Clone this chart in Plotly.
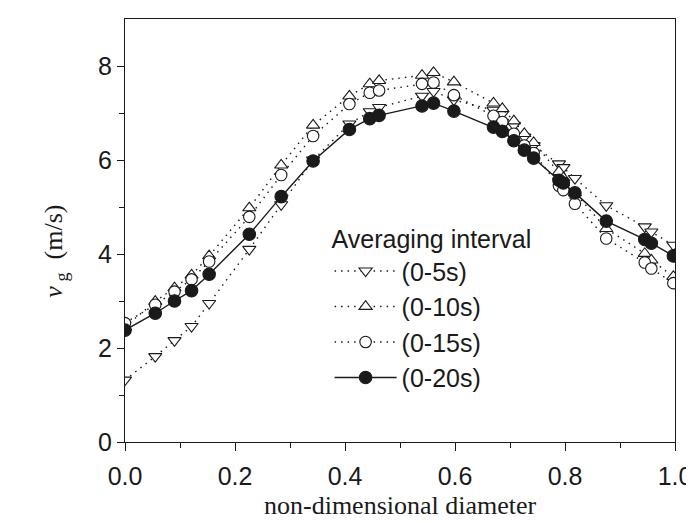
import plotly.graph_objects as go

x_pos = [0.000, 0.055, 0.090, 0.121, 0.153, 0.226, 0.284, 0.342, 0.408, 0.445,
         0.462, 0.540, 0.561, 0.598, 0.670, 0.686, 0.707, 0.726, 0.743, 0.789,
         0.797, 0.818, 0.875, 0.945, 0.957, 0.997]

v_0_5s = [1.32, 1.82, 2.16, 2.46, 2.95, 4.10, 5.05, 6.00, 6.77, 7.03,
          7.12, 7.36, 7.46, 7.28, 7.06, 6.98, 6.74, 6.49, 6.31, 5.92,
          5.84, 5.61, 5.03, 4.58, 4.47, 4.19]

v_0_10s = [2.45, 2.99, 3.28, 3.55, 3.96, 4.98, 5.89, 6.74, 7.36, 7.62,
           7.69, 7.80, 7.86, 7.66, 7.21, 7.09, 6.83, 6.56, 6.37, 5.75,
           5.62, 5.30, 4.54, 4.01, 3.87, 3.52]

v_0_15s = [2.53, 2.92, 3.20, 3.46, 3.84, 4.79, 5.68, 6.51, 7.19, 7.43,
           7.48, 7.62, 7.65, 7.38, 6.94, 6.81, 6.56, 6.31, 6.15, 5.45,
           5.36, 5.07, 4.33, 3.82, 3.69, 3.38]

v_0_20s = [2.38, 2.74, 3.00, 3.22, 3.57, 4.42, 5.22, 5.98, 6.65, 6.88,
           6.95, 7.15, 7.21, 7.04, 6.70, 6.61, 6.41, 6.21, 6.04, 5.57,
           5.51, 5.30, 4.70, 4.31, 4.23, 3.96]

series_names = ["(0-5s)", "(0-10s)", "(0-15s)", "(0-20s)"]
x_ticks = [0.0, 0.2, 0.4, 0.6, 0.8, 1.0]
x_tick_labels = ["0.0", "0.2", "0.4", "0.6", "0.8", "1.0"]
y_ticks = [0, 2, 4, 6, 8]
y_tick_labels = ["0", "2", "4", "6", "8"]

INK = "#1a1a1a"
DOT = "1.5px,5px"

fig = go.Figure()
styles = [
    (v_0_5s, "triangle-down", 11.5, "white", DOT),
    (v_0_10s, "triangle-up", 11.5, "white", DOT),
    (v_0_15s, "circle", 11.5, "white", DOT),
    (v_0_20s, "circle", 12.5, INK, "solid"),
]
for (vals, sym, size, fill, dash), name in zip(styles, series_names):
    fig.add_trace(go.Scatter(
        x=x_pos, y=vals, name=name, mode="lines+markers",
        line=dict(color=INK, width=1.4, dash=dash),
        marker=dict(symbol=sym, size=size, color=fill,
                    line=dict(color=INK, width=1.1)),
    ))

fig.update_layout(
    width=694, height=523,
    margin=dict(l=117, r=17, t=10, b=89),
    paper_bgcolor="white", plot_bgcolor="white",
    showlegend=True,
    legend=dict(
        title=dict(text="Averaging interval",
                   font=dict(family="Liberation Sans, Arial", size=25, color=INK)),
        font=dict(family="Liberation Sans, Arial", size=25, color=INK),
        x=0.372, y=0.535, xanchor="left", yanchor="top",
        bgcolor="rgba(0,0,0,0)", borderwidth=0,
        itemwidth=62, tracegroupgap=0,
    ),
    font=dict(family="Liberation Sans, Arial", color=INK),
)

fig.update_xaxes(
    range=[0, 1], tickvals=x_ticks, ticktext=x_tick_labels,
    ticks="outside", ticklen=8, tickwidth=1, tickcolor=INK,
    minor=dict(dtick=0.1, ticks="outside", ticklen=5, tickwidth=1, tickcolor=INK),
    showline=True, linecolor=INK, linewidth=1, mirror=True,
    showgrid=False, zeroline=False,
    tickfont=dict(family="Liberation Sans, Arial", size=25, color=INK),
    ticklabelstandoff=4, ticklabeloverflow="allow",
)
fig.update_yaxes(
    range=[0, 9], tickvals=y_ticks, ticktext=y_tick_labels,
    ticks="outside", ticklen=7, tickwidth=1, tickcolor=INK,
    minor=dict(tickvals=[1, 3, 5, 7], ticks="outside", ticklen=5, tickwidth=1, tickcolor=INK),
    showline=True, linecolor=INK, linewidth=1, mirror=True,
    showgrid=False, zeroline=False,
    tickfont=dict(family="Liberation Sans, Arial", size=25, color=INK),
)

fig.add_annotation(
    xref="paper", yref="paper", x=0.5, y=-0.149, yanchor="middle",
    text="non-dimensional diameter", showarrow=False,
    font=dict(family="Liberation Serif, Times New Roman", size=26, color=INK),
)
fig.add_annotation(
    xref="paper", yref="paper", x=0, y=0.45, xshift=-88,
    text="<i>v</i><sub> g</sub>  (m/s)", textangle=-90, showarrow=False,
    font=dict(family="Liberation Serif, Times New Roman", size=26, color=INK),
)

fig.write_html("out.html")
